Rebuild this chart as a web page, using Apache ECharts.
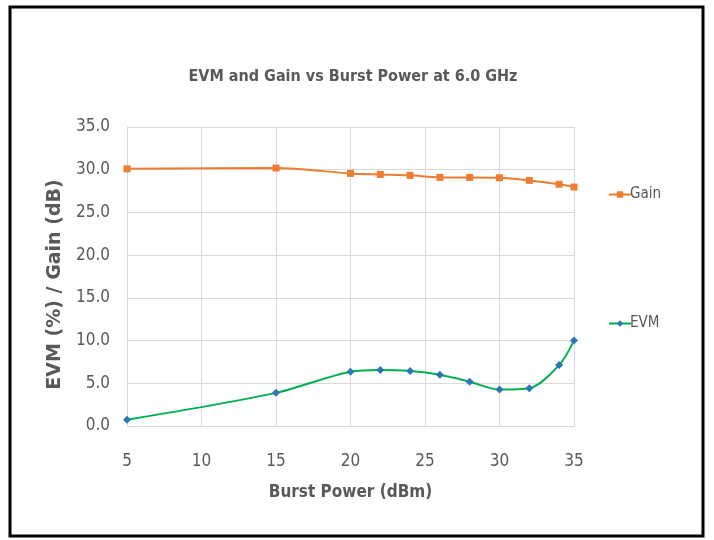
<!DOCTYPE html>
<html><head><meta charset="utf-8">
<script src="https://cdn.jsdelivr.net/npm/echarts@6/dist/echarts.min.js"></script>
<style>html,body{margin:0;padding:0;background:#fff}#c{width:714px;height:540px}</style>
</head><body><div id="c"></div>
<script>
const burstPower = [5, 15, 20, 22, 24, 26, 28, 30, 32, 34, 35];
const gain = [30.1, 30.2, 29.57, 29.45, 29.34, 29.1, 29.1, 29.06, 28.75, 28.3, 27.97];
const evm = [0.74, 3.88, 6.36, 6.55, 6.43, 6.0, 5.19, 4.26, 4.42, 7.13, 10.0];
const yTicks = [0, 5, 10, 15, 20, 25, 30, 35];

const FONT = '"DejaVu Sans Condensed", "Liberation Sans Narrow", sans-serif';
const chart = echarts.init(document.getElementById('c'), null, {renderer: 'canvas'});
chart.setOption({
  animation: false,
  backgroundColor: '#fff',
  title: {
    text: 'EVM and Gain vs Burst Power at 6.0 GHz',
    left: 348, top: 64, textAlign: 'center',
    textStyle: {fontFamily: FONT, fontSize: 16, fontWeight: 'bold', color: '#595959'}
  },
  grid: {left: 127, right: 140, top: 127, bottom: 114, containLabel: false},
  legend: [
    {data: ['Gain'], left: 603, top: 182, itemWidth: 22, itemHeight: 8, itemGap: 0,
     textStyle: {fontFamily: FONT, fontSize: 15, color: '#595959', padding: [0,0,0,-6]}},
    {data: ['EVM'], left: 603, top: 311, itemWidth: 22, itemHeight: 8, itemGap: 0,
     textStyle: {fontFamily: FONT, fontSize: 15, color: '#595959', padding: [0,0,0,-6]}}
  ],
  xAxis: {
    type: 'value', min: 5, max: 35, interval: 5,
    name: 'Burst Power (dBm)', nameLocation: 'middle', nameGap: 58,
    nameTextStyle: {fontFamily: FONT, fontSize: 17, fontWeight: 'bold', color: '#595959'},
    axisLine: {show: true, lineStyle: {color: '#d9d9d9'}},
    axisTick: {show: false},
    axisLabel: {fontFamily: FONT, fontSize: 17, color: '#595959', margin: 27},
    splitLine: {show: true, lineStyle: {color: '#d9d9d9'}}
  },
  yAxis: {
    type: 'value', min: yTicks[0], max: yTicks[yTicks.length-1], interval: 5,
    name: 'EVM (%) / Gain (dB)', nameLocation: 'middle', nameGap: 53,
    nameTextStyle: {fontFamily: '"DejaVu Sans", sans-serif', fontSize: 19, fontWeight: 'bold', color: '#595959',
      padding: [0, 16, 0, 0]},
    axisLine: {show: true, lineStyle: {color: '#d9d9d9'}},
    axisTick: {show: false},
    axisLabel: {fontFamily: FONT, fontSize: 17, color: '#595959', margin: 17,
      formatter: v => v.toFixed(1)},
    splitLine: {show: true, lineStyle: {color: '#d9d9d9'}}
  },
  series: [
    {name: 'Gain', type: 'line', smooth: 0.3,
     data: burstPower.map((x, i) => [x, gain[i]]),
     symbol: 'rect', symbolSize: 7,
     lineStyle: {color: '#ED7D31', width: 2},
     itemStyle: {color: '#ED7D31'}},
    {name: 'EVM', type: 'line', smooth: 0.3,
     data: burstPower.map((x, i) => [x, evm[i]]),
     symbol: 'diamond', symbolSize: 8,
     lineStyle: {color: '#00B050', width: 2},
     itemStyle: {color: '#2E75B6'}}
  ],
  graphic: [{
    type: 'rect', shape: {x: 10, y: 7, width: 693, height: 529},
    style: {fill: null, stroke: '#000', lineWidth: 3}, silent: true, z: 100
  }]
});
</script></body></html>
